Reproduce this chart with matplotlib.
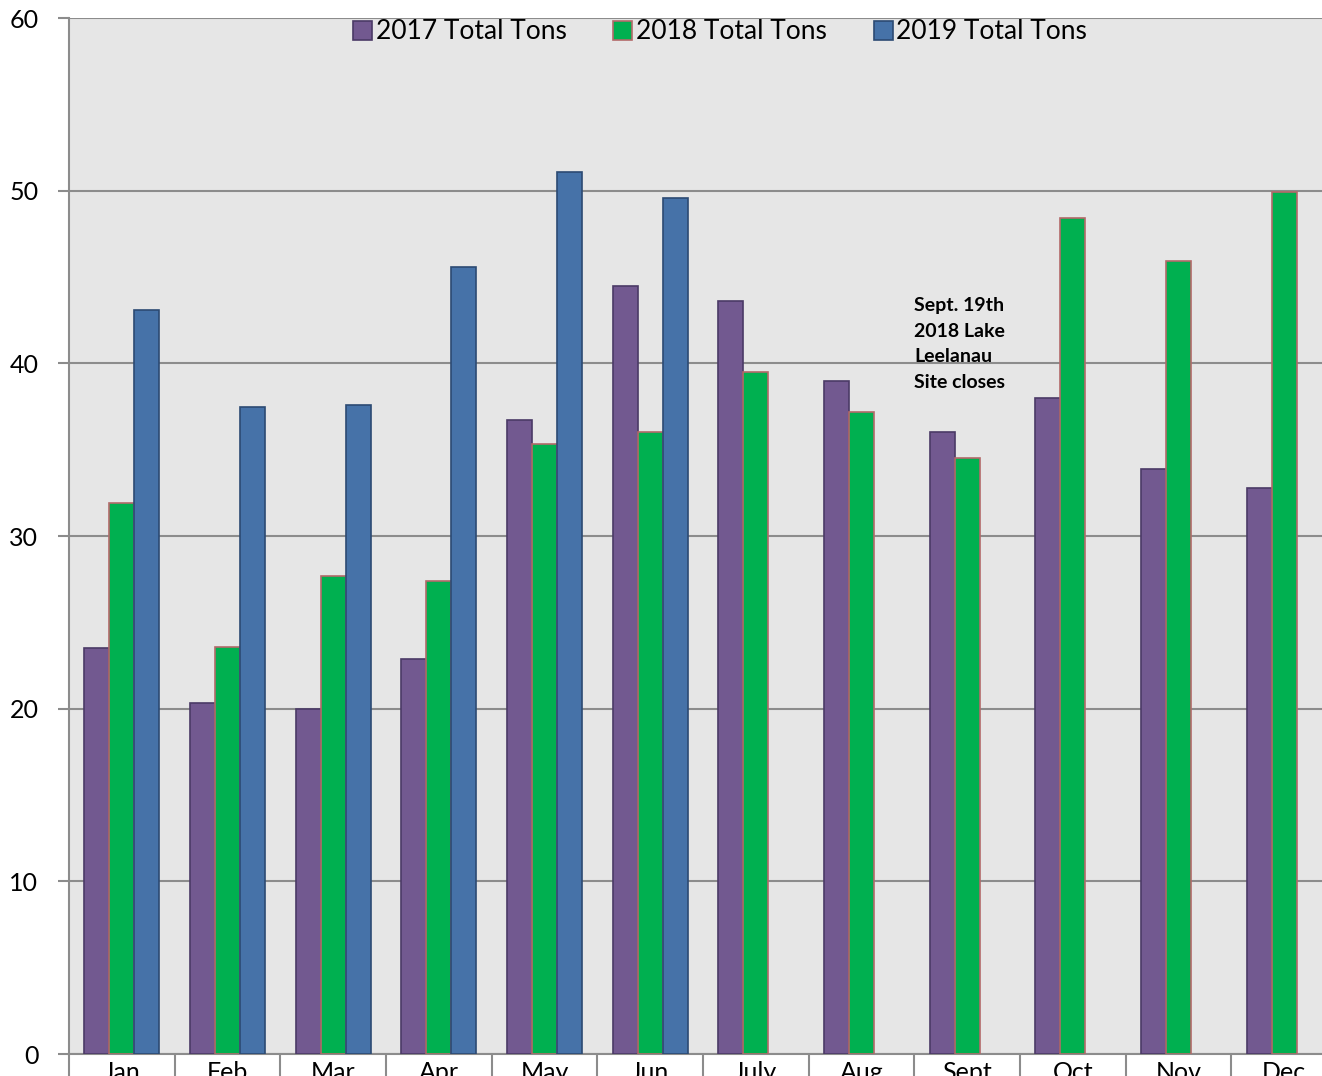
import matplotlib.pyplot as plt
import numpy as np

plt.rcParams['font.family'] = ['Lato', 'DejaVu Sans']

months = ['Jan', 'Feb', 'Mar', 'Apr', 'May', 'Jun', 'July', 'Aug', 'Sept', 'Oct', 'Nov', 'Dec']
tons_2017 = [23.5, 20.3, 20.0, 22.9, 36.7, 44.5, 43.6, 39.0, 36.0, 38.0, 33.9, 32.8]
tons_2018 = [31.9, 23.6, 27.7, 27.4, 35.3, 36.0, 39.5, 37.2, 34.5, 48.4, 45.9, 49.9]
tons_2019 = [43.1, 37.5, 37.6, 45.6, 51.1, 49.6]

series = [
    ('2017 Total Tons', tons_2017, '#725990', '#4b3a66'),
    ('2018 Total Tons', tons_2018, '#00b050', '#b36a6a'),
    ('2019 Total Tons', tons_2019, '#4672a8', '#2c4a73'),
]

fig = plt.figure(figsize=(13.22, 10.76), dpi=100)
# plot area runs a little past the right and bottom edges, like the cropped original
ax = fig.add_axes([69 / 1322, 1 - 1054 / 1076, (1337 - 69) / 1322, (1054 - 18) / 1076])
ax.set_facecolor('#e6e6e6')

width = 0.237
for i, (label, vals, color, edge) in enumerate(series):
    x = np.arange(len(vals)) + (i - 1) * width
    ax.bar(x, vals, width=width, color=color, edgecolor=edge, linewidth=1.2,
           label=label, zorder=3)

ax.set_ylim(0, 60)
ax.set_xlim(-0.5, 11.5)
ax.set_yticks(range(0, 61, 10))
ax.yaxis.grid(True, color='#8c8c8c', linewidth=1.5, zorder=1)
ax.tick_params(axis='y', labelsize=18, length=8, width=1.5, color='#8c8c8c', pad=14)

ax.set_xticks(range(12))
ax.set_xticklabels(months, fontsize=18)
ax.set_xticks(np.arange(-0.5, 12, 1), minor=True)
ax.tick_params(axis='x', which='major', length=0, pad=5)
ax.tick_params(axis='x', which='minor', length=30, width=1.5, color='#8c8c8c')

for side in ['top', 'right']:
    ax.spines[side].set_visible(False)
for side in ['left', 'bottom']:
    ax.spines[side].set_color('#8c8c8c')
    ax.spines[side].set_linewidth(1.5)

ax.text(7.5, 43.85, 'Sept. 19th\n2018 Lake\nLeelanau\nSite closes', fontsize=14,
        fontweight='bold', va='top', ha='left', linespacing=1.62, zorder=4)

ax.legend(loc='upper left', bbox_to_anchor=(335 / 1322, 1 - 1 / 1076),
          bbox_transform=fig.transFigure, ncol=3, frameon=False,
          fontsize=19, handlelength=0.72, handleheight=0.72, handletextpad=0.15,
          columnspacing=1.75, borderpad=0.2)

fig.savefig('out.png', dpi=100)
